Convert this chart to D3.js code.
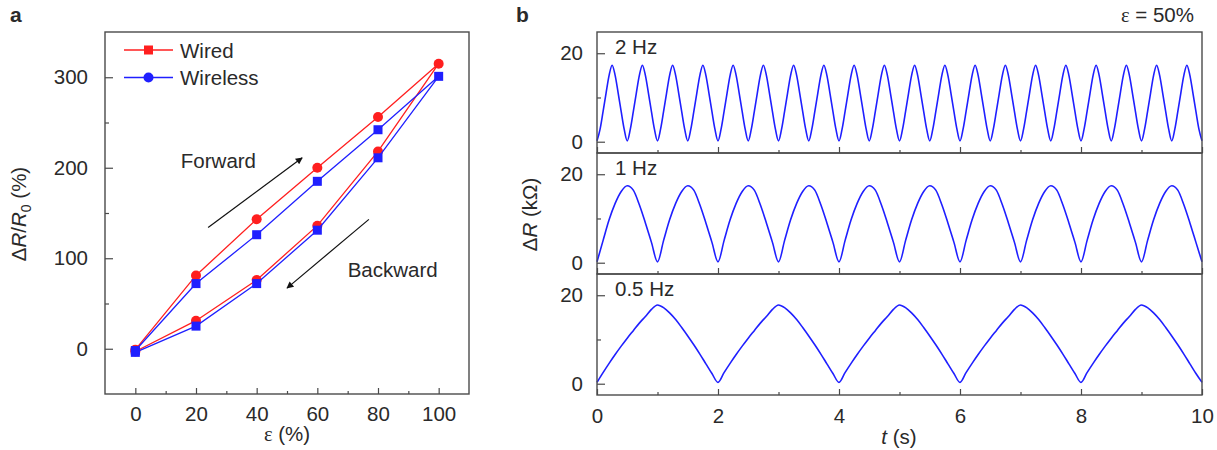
<!DOCTYPE html>
<html><head><meta charset="utf-8">
<script src="https://cdn.jsdelivr.net/npm/d3@7"></script>
<style>
body{margin:0;background:#fff}
text{font-family:"Liberation Sans",Arial,Helvetica,sans-serif;fill:#2a2a2a}
</style>
</head><body><svg id="c" width="1217" height="450"></svg>
<script>
// ---------- Panel a data ----------
const strain   = [0, 20, 40, 60, 80, 100, 80, 60, 40, 20, 0];
const wired    = [-1, 81, 143, 200, 256, 315, 218, 136, 76, 31, -3];
const wireless = [-2, 72, 126, 185, 242, 301, 211, 131, 72, 25, -4];
const xTicksA = [0, 20, 40, 60, 80, 100];
const xMinorA = [10, 30, 50, 70, 90];
const yTicksA = [0, 100, 200, 300];
const yMinorA = [50, 150, 250];
const legendLabels = ["Wired", "Wireless"];
// annotations in data coordinates
const fwdArrow = [[24, 134], [55, 211]];
const bwdArrow = [[77, 143], [50, 67]];
const fwdText = {x: 15, y: 200, label: "Forward"};
const bwdText = {x: 70, y: 79, label: "Backward"};

// ---------- Panel b data (ΔR in kΩ, uniformly sampled) ----------
const freqLabels = ["2 Hz", "1 Hz", "0.5 Hz"];
const sampleStep = [0.05, 0.1, 0.1];   // seconds between samples
const wave2Hz = [
 0.2,2.8,6.8,11.0,15.0,17.3,15.0,11.0,6.8,2.8, 0.2,2.8,6.8,11.0,15.0,17.3,15.0,11.0,6.8,2.8,
 0.2,2.8,6.8,11.0,15.0,17.3,15.0,11.0,6.8,2.8, 0.2,2.8,6.8,11.0,15.0,17.3,15.0,11.0,6.8,2.8,
 0.2,2.8,6.8,11.0,15.0,17.3,15.0,11.0,6.8,2.8, 0.2,2.8,6.8,11.0,15.0,17.3,15.0,11.0,6.8,2.8,
 0.2,2.8,6.8,11.0,15.0,17.3,15.0,11.0,6.8,2.8, 0.2,2.8,6.8,11.0,15.0,17.3,15.0,11.0,6.8,2.8,
 0.2,2.8,6.8,11.0,15.0,17.3,15.0,11.0,6.8,2.8, 0.2,2.8,6.8,11.0,15.0,17.3,15.0,11.0,6.8,2.8,
 0.2,2.8,6.8,11.0,15.0,17.3,15.0,11.0,6.8,2.8, 0.2,2.8,6.8,11.0,15.0,17.3,15.0,11.0,6.8,2.8,
 0.2,2.8,6.8,11.0,15.0,17.3,15.0,11.0,6.8,2.8, 0.2,2.8,6.8,11.0,15.0,17.3,15.0,11.0,6.8,2.8,
 0.2,2.8,6.8,11.0,15.0,17.3,15.0,11.0,6.8,2.8, 0.2,2.8,6.8,11.0,15.0,17.3,15.0,11.0,6.8,2.8,
 0.2,2.8,6.8,11.0,15.0,17.3,15.0,11.0,6.8,2.8, 0.2,2.8,6.8,11.0,15.0,17.3,15.0,11.0,6.8,2.8,
 0.2,2.8,6.8,11.0,15.0,17.3,15.0,11.0,6.8,2.8, 0.2,2.8,6.8,11.0,15.0,17.3,15.0,11.0,6.8,2.8,
 0.2];
const wave1Hz = [
 0.2,5.0,9.7,13.4,16.1,17.4,16.4,13.1,9.0,4.6,
 0.2,5.0,9.7,13.4,16.1,17.4,16.4,13.1,9.0,4.6,
 0.2,5.0,9.7,13.4,16.1,17.4,16.4,13.1,9.0,4.6,
 0.2,5.0,9.7,13.4,16.1,17.4,16.4,13.1,9.0,4.6,
 0.2,5.0,9.7,13.4,16.1,17.4,16.4,13.1,9.0,4.6,
 0.2,5.0,9.7,13.4,16.1,17.4,16.4,13.1,9.0,4.6,
 0.2,5.0,9.7,13.4,16.1,17.4,16.4,13.1,9.0,4.6,
 0.2,5.0,9.7,13.4,16.1,17.4,16.4,13.1,9.0,4.6,
 0.2,5.0,9.7,13.4,16.1,17.4,16.4,13.1,9.0,4.6,
 0.2,5.0,9.7,13.4,16.1,17.4,16.4,13.1,9.0,4.6,
 0.2];
const wave05Hz = [
 0.3,2.5,4.6,6.6,8.5,10.3,12.0,13.7,15.2,16.8,17.8,17.2,16.0,14.5,12.7,10.8,8.8,6.7,4.5,2.3,
 0.3,2.5,4.6,6.6,8.5,10.3,12.0,13.7,15.2,16.8,17.8,17.2,16.0,14.5,12.7,10.8,8.8,6.7,4.5,2.3,
 0.3,2.5,4.6,6.6,8.5,10.3,12.0,13.7,15.2,16.8,17.8,17.2,16.0,14.5,12.7,10.8,8.8,6.7,4.5,2.3,
 0.3,2.5,4.6,6.6,8.5,10.3,12.0,13.7,15.2,16.8,17.8,17.2,16.0,14.5,12.7,10.8,8.8,6.7,4.5,2.3,
 0.3,2.5,4.6,6.6,8.5,10.3,12.0,13.7,15.2,16.8,17.8,17.2,16.0,14.5,12.7,10.8,8.8,6.7,4.5,2.3,
 0.3];
const waves = [wave2Hz, wave1Hz, wave05Hz];
const xTicksB = [0, 2, 4, 6, 8, 10];
const xMinorB = [1, 3, 5, 7, 9];
const yTicksB = [0, 20];
const yMinorB = [10];

// ---------- styling ----------
const RED = "#ff1f1f", BLUE = "#1f1fff", AX = "#4a4a4a", FS = "20.5px";
const svg = d3.select("#c");

function styleAxis(g){
  g.select(".domain").remove();
  g.selectAll(".tick line").attr("stroke", AX).attr("stroke-width", 1.2);
  g.selectAll(".tick text").style("font-size", FS).attr("fill", "#2a2a2a")
    .style("font-family", '"Liberation Sans",Arial,sans-serif');
}

// ================= Panel a =================
const A = {l: 105, r: 469, t: 32, b: 394};
const xa = d3.scaleLinear().domain([-10, 110]).range([A.l, A.r]);
const ya = d3.scaleLinear().domain([-50, 350]).range([A.b, A.t]);

const ga = svg.append("g");
ga.append("g").attr("transform", `translate(0,${A.b})`)
  .call(d3.axisBottom(xa).tickValues(xTicksA).tickSize(-6).tickPadding(12).tickSizeOuter(0)).call(styleAxis);
ga.append("g").attr("transform", `translate(0,${A.b})`)
  .call(d3.axisBottom(xa).tickValues(xMinorA).tickSize(-3).tickFormat("").tickSizeOuter(0)).call(styleAxis);
ga.append("g").attr("transform", `translate(${A.l},0)`)
  .call(d3.axisLeft(ya).tickValues(yTicksA).tickSize(-8).tickPadding(17).tickSizeOuter(0)).call(styleAxis);
ga.append("g").attr("transform", `translate(${A.l},0)`)
  .call(d3.axisLeft(ya).tickValues(yMinorA).tickSize(-4).tickFormat("").tickSizeOuter(0)).call(styleAxis);
ga.append("rect").attr("x", A.l).attr("y", A.t).attr("width", A.r - A.l).attr("height", A.b - A.t)
  .attr("fill", "none").attr("stroke", AX).attr("stroke-width", 1.4);

const lineA = d3.line().x((d, i) => xa(strain[i])).y(d => ya(d));
// red (wired) series: line + circles
ga.append("path").datum(wired).attr("d", lineA).attr("fill", "none").attr("stroke", RED).attr("stroke-width", 1.3);
ga.selectAll(".rc").data(wired).enter().append("circle")
  .attr("cx", (d, i) => xa(strain[i])).attr("cy", d => ya(d)).attr("r", 5).attr("fill", RED);
// blue (wireless) series: line + squares
ga.append("path").datum(wireless).attr("d", lineA).attr("fill", "none").attr("stroke", BLUE).attr("stroke-width", 1.3);
ga.selectAll(".bs").data(wireless).enter().append("rect")
  .attr("x", (d, i) => xa(strain[i]) - 4.5).attr("y", d => ya(d) - 4.5).attr("width", 9).attr("height", 9).attr("fill", BLUE);

// legend
const leg = ga.append("g");
[[RED, "square"], [BLUE, "circle"]].forEach(([c, m], i) => {
  const yy = 50 + i * 27.5;
  leg.append("line").attr("x1", 124).attr("x2", 173).attr("y1", yy).attr("y2", yy).attr("stroke", c).attr("stroke-width", 1.3);
  if (m === "square") leg.append("rect").attr("x", 144).attr("y", yy - 4.5).attr("width", 9).attr("height", 9).attr("fill", c);
  else leg.append("circle").attr("cx", 148.5).attr("cy", yy).attr("r", 5).attr("fill", c);
  leg.append("text").attr("x", 180).attr("y", yy + 7.8).style("font-size", FS).text(legendLabels[i]);
});

// arrows
const defs = svg.append("defs");
defs.append("marker").attr("id", "ah").attr("viewBox", "0 0 10 10").attr("refX", 9).attr("refY", 5)
  .attr("markerWidth", 10).attr("markerHeight", 7).attr("markerUnits", "userSpaceOnUse").attr("orient", "auto")
  .append("path").attr("d", "M0,0 L10,5 L0,10 Z").attr("fill", "#111");
[fwdArrow, bwdArrow].forEach(a => {
  ga.append("line").attr("x1", xa(a[0][0])).attr("y1", ya(a[0][1])).attr("x2", xa(a[1][0])).attr("y2", ya(a[1][1]))
    .attr("stroke", "#111").attr("stroke-width", 1.2).attr("marker-end", "url(#ah)");
});
[fwdText, bwdText].forEach(t => {
  ga.append("text").attr("x", xa(t.x)).attr("y", ya(t.y)).style("font-size", FS).text(t.label);
});

// axis titles
ga.append("text").attr("x", (A.l + A.r) / 2).attr("y", 441).attr("text-anchor", "middle").style("font-size", FS)
  .html('<tspan style="font-family:\'Liberation Serif\',serif">ε</tspan> (%)');
ga.append("text").attr("transform", `translate(26,${(A.t + A.b) / 2 + 1}) rotate(-90)`).attr("text-anchor", "middle").style("font-size", FS)
  .html('Δ<tspan font-style="italic">R</tspan>/<tspan font-style="italic">R</tspan><tspan dy="5" style="font-size:14px">0</tspan><tspan dy="-5"> (%)</tspan>');

svg.append("text").attr("x", 10).attr("y", 22).style("font-size", "21px").style("font-weight", "bold").attr("fill", "#111").text("a");

// ================= Panel b =================
const B = {l: 597, r: 1202, t: 32, b: 395};
const ph = (B.b - B.t) / 3;
const xb = d3.scaleLinear().domain([0, 10]).range([B.l, B.r]);
const gb = svg.append("g");

waves.forEach((w, k) => {
  const top = B.t + k * ph, bot = top + ph;
  const yb = d3.scaleLinear().domain([-2.55, 24.8]).range([bot, top]);
  const g = gb.append("g");
  g.append("g").attr("transform", `translate(0,${bot})`)
    .call(d3.axisBottom(xb).tickValues(xTicksB).tickSize(-6).tickPadding(13).tickSizeOuter(0)
      .tickFormat(k === 2 ? d3.format("d") : "")).call(styleAxis);
  g.append("g").attr("transform", `translate(0,${bot})`)
    .call(d3.axisBottom(xb).tickValues(xMinorB).tickSize(-3).tickFormat("").tickSizeOuter(0)).call(styleAxis);
  g.append("g").attr("transform", `translate(${B.l},0)`)
    .call(d3.axisLeft(yb).tickValues(yTicksB).tickSize(-8).tickPadding(14).tickSizeOuter(0)).call(styleAxis);
  g.append("g").attr("transform", `translate(${B.l},0)`)
    .call(d3.axisLeft(yb).tickValues(yMinorB).tickSize(-4).tickFormat("").tickSizeOuter(0)).call(styleAxis);
  const dt = sampleStep[k];
  const ln = d3.line().x((d, i) => xb(i * dt)).y(d => yb(d)).curve(d3.curveMonotoneX);
  g.append("path").datum(w).attr("d", ln).attr("fill", "none").attr("stroke", BLUE).attr("stroke-width", 1.6)
    .attr("stroke-linejoin", "round");
  g.append("rect").attr("x", B.l).attr("y", top).attr("width", B.r - B.l).attr("height", ph)
    .attr("fill", "none").attr("stroke", AX).attr("stroke-width", 1.4);
  g.append("text").attr("x", 615).attr("y", top + 21.5).style("font-size", FS).text(freqLabels[k]);
});

gb.append("text").attr("x", 899).attr("y", 444).attr("text-anchor", "middle").style("font-size", FS)
  .html('<tspan font-style="italic">t</tspan> (s)');
gb.append("text").attr("transform", `translate(537,${B.t + 1.5 * ph + 1}) rotate(-90)`).attr("text-anchor", "middle").style("font-size", FS)
  .html('Δ<tspan font-style="italic">R</tspan> (kΩ)');
gb.append("text").attr("x", 1194).attr("y", 22).attr("text-anchor", "end").style("font-size", FS)
  .html('<tspan style="font-family:\'Liberation Serif\',serif">ε</tspan> = 50%');
svg.append("text").attr("x", 516).attr("y", 22).style("font-size", "21px").style("font-weight", "bold").attr("fill", "#111").text("b");
</script>
</body></html>
